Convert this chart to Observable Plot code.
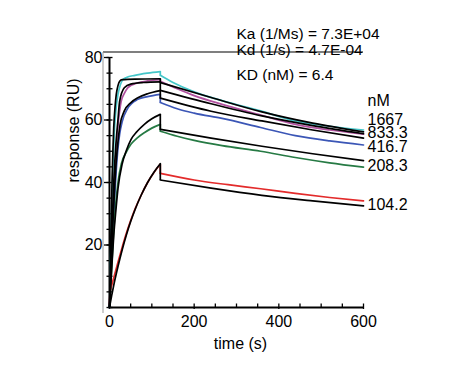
<!DOCTYPE html>
<html><head><meta charset="utf-8">
<script src="https://cdn.jsdelivr.net/npm/d3@7"></script>
<script src="https://cdn.jsdelivr.net/npm/@observablehq/plot@0.6"></script>
<style>body{margin:0;background:#fff}</style>
</head><body><div id="chart"></div>
<script>
// ---- data ----
const concentrations = ["1667", "833.3", "416.7", "208.3", "104.2"];
const colors = ["#45c6c9", "#b0519f", "#3b56b6", "#267a44", "#e32b2b"];
const kinetics = ["Ka (1/Ms) = 7.3E+04", "Kd (1/s) = 4.7E-04", "KD (nM) = 6.4"];
const xTicks = [0, 200, 400, 600];
const yTicks = [20, 40, 60, 80];

// measured responses [time s, RU]
const meas1667Assoc = [[0,0],[2,12],[4,25],[6,36],[8,45],[10,52],[12,57.6],[15,63],[20,68.2],[25,71],[30,72.6],[40,73.6],[60,74.3],[90,75],[120,75.5]];
const meas1667Diss  = [[120,74.3],[150,72.0],[200,69.0],[266,66.2],[357,62.9],[439,59.7],[520,58.0],[600,56.8]];
const meas833Assoc  = [[0,0],[5,20],[10,37],[15,49],[20,58],[27.6,66],[35,68.5],[43,70.3],[67,71.9],[90,72.5],[120,72.9]];
const meas833Diss   = [[120,72.4],[160,70.0],[200,67.8],[266,65.0],[357,61.6],[439,58.6],[520,56.8],[600,55.5]];
const meas416Assoc  = [[0,0],[4,12],[8,24],[12,35],[16,44],[20,51],[24,55.5],[30,59.5],[43,63.7],[67,66.6],[90,67.5],[120,68.2]];
const meas416Diss   = [[120,65.6],[160,63.6],[200,62.2],[266,60.5],[357,57.6],[439,55.0],[520,53.3],[600,52.0]];
const meas208Assoc  = [[0,0],[4,10],[8,20],[14,32],[20,40],[28,46],[40,49.8],[51,52.3],[65,54.2],[83,56],[100,57.4],[120,58.6]];
const meas208Diss   = [[120,56.4],[160,54.8],[200,53.5],[266,51.8],[357,50.0],[439,48.0],[520,46.3],[600,44.9]];
const meas104Assoc  = [[0,1],[1,4.5],[3,6],[6,7.5],[10,9.5],[20,14.5],[30,19.3],[40,23.8],[50,27.8],[60,31.4],[75,36],[90,40],[105,43.2],[120,45.9]];
const meas104Diss   = [[120,42.9],[200,40.8],[280,39.3],[357,38.0],[439,36.5],[520,35.2],[600,34.1]];

// fitted curves [time s, RU]
const fit1667Assoc = [[0,0],[2,14],[4,28],[6,40],[8,50],[10,57.6],[13,64],[16,68.2],[20,71],[24,72.4],[30,72.9],[60,73.1],[120,73.2]];
const fit1667Diss  = [[120,72.0],[240,67.2],[360,62.6],[480,59.0],[600,56.2]];
const fit833Assoc  = [[0,0],[5,22],[10,40],[15,52],[20,60],[24,66],[35,70.3],[50,71.5],[80,72],[120,72.2]];
const fit833Diss   = [[120,69.5],[240,65.2],[360,61.3],[480,58.2],[600,55.6]];
const fit416Assoc  = [[0,0],[4,14],[8,27],[12,38],[16,47],[20,53],[25,58.5],[35,62.9],[50,65.5],[67,67.1],[90,68.4],[120,69.4]];
const fit416Diss   = [[120,67.0],[240,62.8],[360,59.7],[480,56.8],[600,54.2]];
const fit208Assoc  = [[0,0],[5,12],[10,23],[15,31],[20,38],[30,46],[40,50.3],[51,53.8],[65,56.3],[83,58.7],[100,60.4],[120,61.8]];
const fit208Diss   = [[120,57.0],[240,54.2],[360,51.6],[480,49.2],[600,47.0]];
const fit104Assoc  = [[0,0],[5,3.7],[10,7.1],[20,13.1],[30,18.5],[40,23.3],[50,27.5],[60,31.2],[75,36],[90,40],[105,43.3],[120,46]];
const fit104Diss   = [[120,40.8],[240,38.2],[360,35.9],[480,34.1],[600,32.5]];

// label placement (layout)
const labelY = [66.2, 60.2, 55.9, 51.4, 45.3, 32.7];
const kineticsDy = [-23.5, -7.5, 18];

// ---- build tables ----
const measured = [
  [meas1667Assoc, meas1667Diss], [meas833Assoc, meas833Diss], [meas416Assoc, meas416Diss],
  [meas208Assoc, meas208Diss], [meas104Assoc, meas104Diss]
];
const fitted = [
  [fit1667Assoc, fit1667Diss], [fit833Assoc, fit833Diss], [fit416Assoc, fit416Diss],
  [fit208Assoc, fit208Diss], [fit104Assoc, fit104Diss]
];
function rowsOf(sets) {
  const rows = [];
  sets.forEach(([a, d], i) => {
    a.forEach(([t, r]) => rows.push({conc: concentrations[i], seg: i + "a", t, r}));
    d.forEach(([t, r]) => rows.push({conc: concentrations[i], seg: i + "d", t, r}));
  });
  return rows;
}
function jumpsOf(sets) {
  return sets.map(([a, d], i) => ({conc: concentrations[i], t: a[a.length-1][0], r1: a[a.length-1][1], r2: d[0][1]}));
}
const measRows = rowsOf(measured), fitRows = rowsOf(fitted);
const measJumps = jumpsOf(measured), fitJumps = jumpsOf(fitted);
const labels = [{text: "nM", y: labelY[0]}].concat(concentrations.map((c, i) => ({text: c, y: labelY[i + 1]})));

const font = "Liberation Sans, Arial, Helvetica, sans-serif";
const plot = Plot.plot({
  width: 469, height: 387,
  marginLeft: 109, marginRight: 106, marginTop: 57, marginBottom: 80,
  style: {fontFamily: font, fontSize: "16px", background: "#fff", color: "#000", overflow: "visible"},
  x: {domain: [0, 600]},
  y: {domain: [0, 80]},
  color: {domain: concentrations, range: colors},
  marks: [
    Plot.axisY({ticks: d3.range(0, 81, 5), tickSize: 2.5, tickFormat: () => "", label: null, strokeWidth: 1.3}),
    Plot.axisY({ticks: d3.range(0, 81, 5), tickSize: -3.5, tickFormat: () => "", label: null, strokeWidth: 1.3}),
    Plot.axisY({ticks: yTicks, tickSize: 5, tickPadding: 2, fontSize: 16, label: null, strokeWidth: 1.3}),
    Plot.axisX({ticks: d3.range(0, 601, 50), tickSize: -3.5, tickFormat: () => "", label: null, strokeWidth: 1.3}),
    Plot.axisX({ticks: xTicks, tickSize: 2, tickPadding: 6, fontSize: 16, label: null, strokeWidth: 1.3}),
    Plot.ruleX([0], {y1: 0, y2: 80, strokeWidth: 2}),
    Plot.ruleY([0], {x1: 0, x2: 600, strokeWidth: 2}),
    Plot.line(measRows, {x: "t", y: "r", z: "seg", stroke: "conc", strokeWidth: 1.7, curve: "monotone-x"}),
    Plot.link(measJumps, {x1: "t", x2: "t", y1: "r1", y2: "r2", stroke: "conc", strokeWidth: 1.7}),
    Plot.line(fitRows, {x: "t", y: "r", z: "seg", stroke: "#000", strokeWidth: 1.7, curve: "monotone-x"}),
    Plot.link(fitJumps, {x1: "t", x2: "t", y1: "r1", y2: "r2", stroke: "#000", strokeWidth: 1.7}),
    Plot.text(labels, {x: 600, y: "y", text: "text", dx: 4, textAnchor: "start", fontSize: 16, fill: "#000"}),
    ...kinetics.map((k, i) => Plot.text([k], {x: 300, frameAnchor: "top", dy: kineticsDy[i], textAnchor: "start", lineAnchor: "middle", fontSize: 15.5, fill: "#000"})),
    Plot.text(["time (s)"], {frameAnchor: "bottom", dy: 36, dx: 4, lineAnchor: "middle", fontSize: 16, fill: "#000"}),
    Plot.text(["response (RU)"], {frameAnchor: "left", rotate: -90, dx: -36, lineAnchor: "middle", fontSize: 16, fill: "#000"})
  ]
});
document.getElementById("chart").appendChild(plot);

// thin frame lines (top & left) from the scales
const sx = plot.scale("x"), sy = plot.scale("y");
const svgSel = d3.select(plot);
const fLeft = sx.apply(0) - 6, fRight = sx.apply(600), fTop = sy.apply(80) - 5, fBottom = sy.apply(0) + 6;
svgSel.append("line").attr("x1", fLeft).attr("x2", fRight).attr("y1", fTop).attr("y2", fTop).attr("stroke", "#000").attr("stroke-width", 1.2);
svgSel.append("line").attr("x1", fLeft).attr("x2", fLeft).attr("y1", fTop).attr("y2", fBottom).attr("stroke", "#999").attr("stroke-width", 1);
</script>
</body></html>
